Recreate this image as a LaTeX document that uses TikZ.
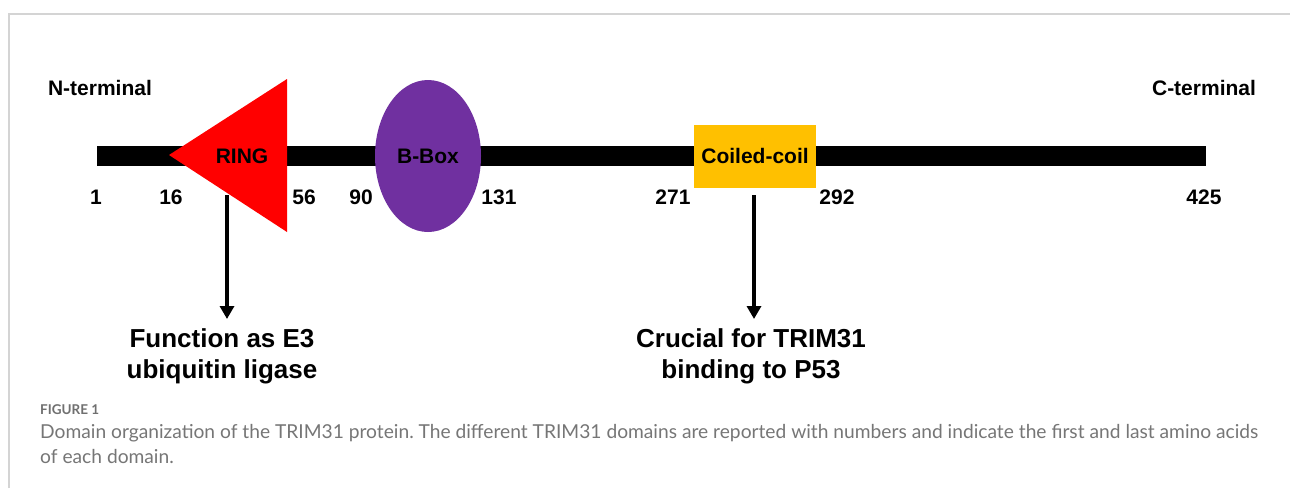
\documentclass[tikz,border=0pt]{standalone}
\usepackage{fontspec}
\setmainfont{Liberation Sans}
\newfontfamily\capfont{Lato}
\usetikzlibrary{arrows.meta}
\frenchspacing
\definecolor{ringred}{HTML}{FF0000}
\definecolor{bboxpurple}{HTML}{7030A0}
\definecolor{coilyellow}{HTML}{FFC000}
\definecolor{framegray}{HTML}{D4D4D4}
\definecolor{capgray}{HTML}{767676}
\definecolor{figgray}{HTML}{707070}
\tikzset{
  lbl/.style={font=\fontsize{21}{25}\selectfont\bfseries, inner sep=0pt, anchor=base},
  big/.style={font=\fontsize{26}{31}\selectfont\bfseries, inner sep=0pt, anchor=base},
  captext/.style={font=\capfont\fontsize{19.2}{24}\selectfont, text=capgray, inner sep=0pt, anchor=base west},
  pointer/.style={line width=4.5pt, -{Triangle[width=14pt,length=13pt]}},
}
\begin{document}
\begin{tikzpicture}[x=1pt,y=-1pt]
\useasboundingbox (0,0) rectangle (1290,488);
\fill[white] (0,0) rectangle (1290,488);
% frame
\draw[framegray, line width=1.5pt] (9,488) -- (9,14) -- (1290,14);
% backbone
\fill[black] (97,146) rectangle (1206,166);
% domains
\fill[ringred] (169,155) -- (287,79) -- (287,232) -- cycle;
\fill[bboxpurple] (428,156) ellipse [x radius=53, y radius=76];
\fill[coilyellow] (694,125) rectangle (816,188);
% labels
\node[lbl] (nterm) at (100,95) {N-terminal};
\node[lbl] (cterm) at (1204,95) {C-terminal};
\node[lbl] (ring) at (242,163) {RING};
\node[lbl] (bbox) at (428,163) {B-Box};
\node[lbl] (coil) at (755,163) {Coiled-coil};
\node[lbl] (n1) at (96,204) {1};
\node[lbl] (n16) at (171,204) {16};
\node[lbl] (n56) at (304,204) {56};
\node[lbl] (n90) at (361,204) {90};
\node[lbl] (n131) at (499,204) {131};
\node[lbl] (n271) at (673,204) {271};
\node[lbl] (n292) at (837,204) {292};
\node[lbl] (n425) at (1204,204) {425};
% functions
\node[big] (f1) at (222,347) {Function as E3};
\node[big] (f1b) at (222,378) {ubiquitin ligase};
\node[big] (f2) at (751,347) {Crucial for TRIM31};
\node[big] (f2b) at (751,378) {binding to P53};
\coordinate (a1s) at (227,195);
\coordinate (a1e) at (227,319);
\coordinate (a2s) at (754,195);
\coordinate (a2e) at (754,319);
\draw[pointer] (a1s) -- (a1e);
\draw[pointer] (a2s) -- (a2e);
% caption
\node[captext, font=\capfont\bfseries\fontsize{13.5}{16}\selectfont, text=figgray] (fig) at (40,414) {FIGURE 1};
\node[captext] (cap1) at (40,438) {Domain organization of the TRIM31 protein. The different TRIM31 domains are reported with numbers and indicate the first and last amino acids};
\node[captext] (cap2) at (40,463) {of each domain.};
\end{tikzpicture}
\end{document}
